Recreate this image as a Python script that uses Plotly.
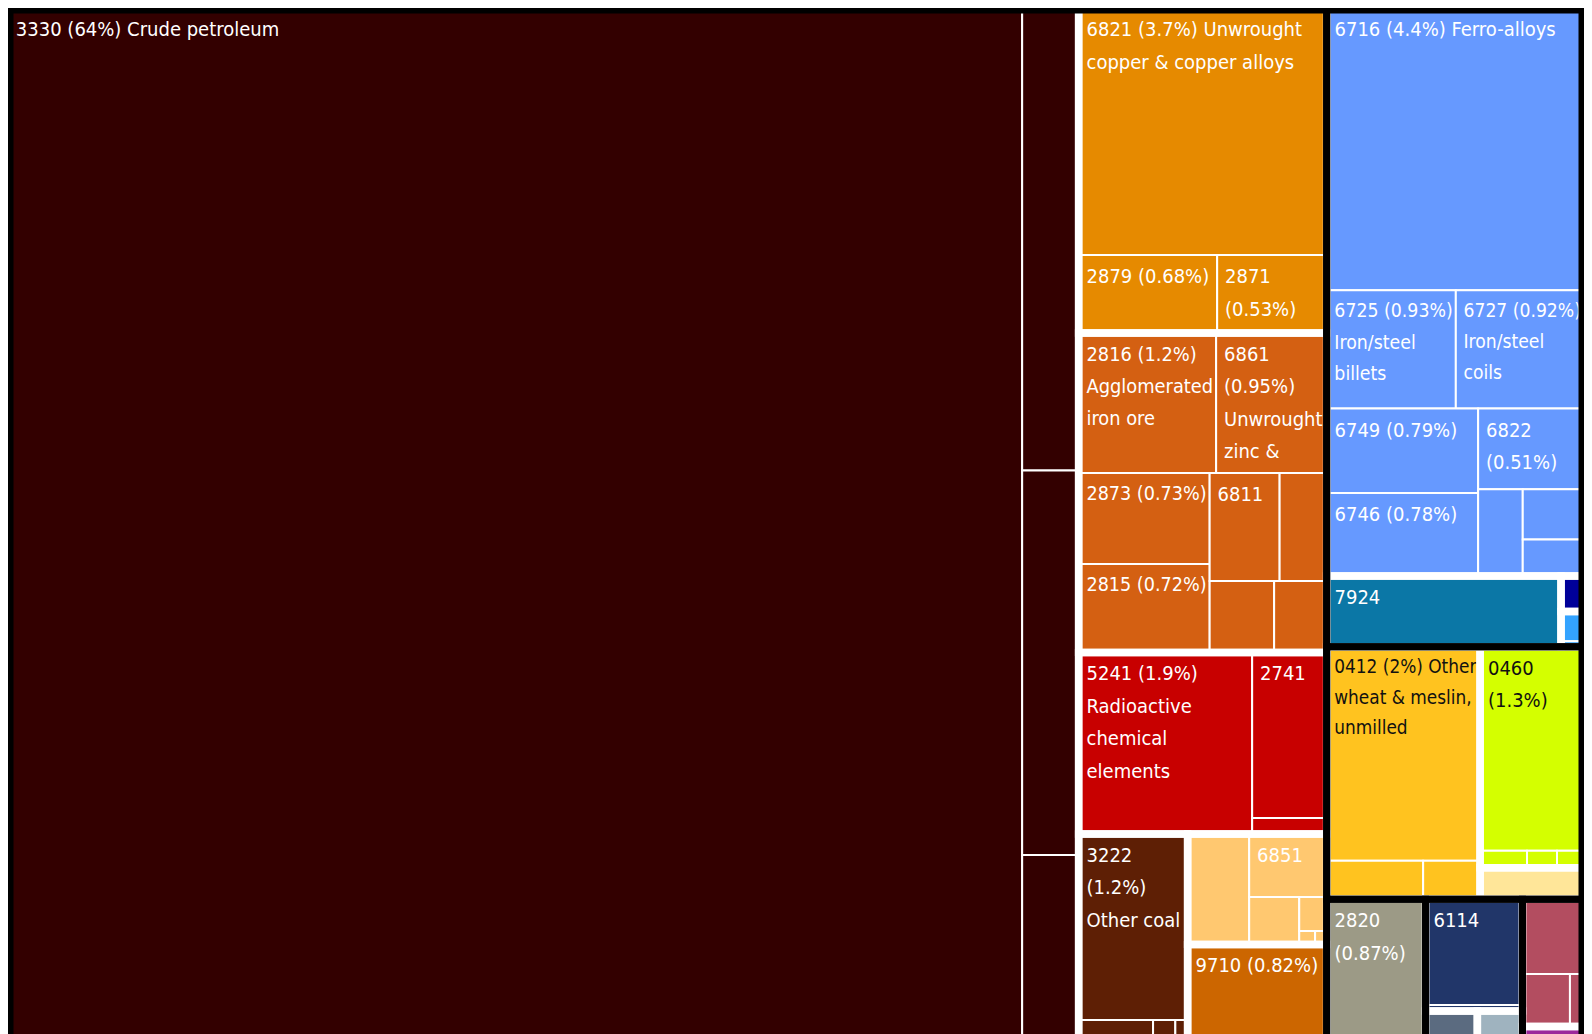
import plotly.graph_objects as go

# ---------------- data (share of exports, %) ----------------
top_ids = ["A", "B", "C", "D1", "D2", "D3"]

group_ids = ["M", "Cu", "Fe", "R", "Br", "LO", "G",
             "Bl", "T", "DB", "LB",
             "Y", "L", "P",
             "GR", "NV", "GB", "LG", "PK", "PU"]
group_parents = ["A"] * 7 + ["B"] * 4 + ["C"] * 3 + ["D1", "D2", "D2", "D2", "D3", "D3"]
group_colors = ["#330000", "#E68A00", "#D46012", "#C80000", "#5E1F05", "#FFC870", "#CC6600",
                "#6699FF", "#0B77A6", "#000099", "#33A3FF",
                "#FFC31F", "#D4FF00", "#FFE699",
                "#9C9A86", "#213669", "#5B6B80", "#9FB3BF", "#B34D60", "#9B279B"]

leaf_ids = ["3330", "m1", "m2", "m3",
            "6821", "2879", "2871",
            "2816", "6861", "2873", "2815", "6811", "f6", "f7", "f8",
            "5241", "2741", "r3",
            "3222", "b2", "b3", "b4",
            "lo1", "6851", "lo3", "lo4", "lo5", "lo6",
            "9710",
            "6716", "6725", "6727", "6749", "6746", "6822", "s1", "s2", "s3",
            "7924", "db1", "lb1", "lb2",
            "0412", "y2", "y3", "0460", "l2", "l3", "l4", "p1",
            "2820", "6114", "n2", "gb1", "lg1", "pk1", "pk2", "pk3", "pu1"]
leaf_groups = ["M"] * 4 + ["Cu"] * 3 + ["Fe"] * 8 + ["R"] * 3 + ["Br"] * 4 + ["LO"] * 6 + ["G"] + \
              ["Bl"] * 9 + ["T", "DB", "LB", "LB"] + ["Y"] * 3 + ["L"] * 4 + ["P"] + \
              ["GR", "NV", "NV", "GB", "LG", "PK", "PK", "PK", "PU"]
leaf_values = [64.34, 1.594, 1.325, 0.665,
               3.737, 0.659, 0.521,
               1.174, 0.944, 0.727, 0.707, 0.461, 0.310, 0.281, 0.229,
               1.921, 0.752, 0.073,
               1.237, 0.127, 0.038, 0.021,
               0.415, 0.298, 0.145, 0.057, 0.013, 0.0095,
               0.878,
               4.430, 0.932, 0.925, 0.781, 0.767, 0.522, 0.236, 0.187, 0.137,
               1.009, 0.0498, 0.0414, 0.0077,
               2.004, 0.227, 0.134, 1.294, 0.0487, 0.0311, 0.028, 0.200,
               0.897, 0.624, 0.0355, 0.117, 0.102, 0.280, 0.152, 0.045, 0.081]
leaf_labels = ["3330 (64%) Crude petroleum", "", "", "",
               "6821 (3.7%) Unwrought<br>copper & copper alloys", "2879 (0.68%)", "2871<br>(0.53%)",
               "2816 (1.2%)<br>Agglomerated<br>iron ore", "6861<br>(0.95%)<br>Unwrought<br>zinc &",
               "2873 (0.73%)", "2815 (0.72%)", "6811", "", "", "",
               "5241 (1.9%)<br>Radioactive<br>chemical<br>elements", "2741", "",
               "3222<br>(1.2%)<br>Other coal", "", "", "",
               "", "6851", "", "", "", "",
               "9710 (0.82%)",
               "6716 (4.4%) Ferro-alloys", "6725 (0.93%)<br>Iron/steel<br>billets",
               "6727 (0.92%)<br>Iron/steel<br>coils", "6749 (0.79%)", "6746 (0.78%)", "6822<br>(0.51%)",
               "", "", "",
               "7924", "", "", "",
               "0412 (2%) Other<br>wheat & meslin,<br>unmilled", "", "", "0460<br>(1.3%)", "", "", "", "",
               "2820<br>(0.87%)", "6114", "", "", "", "", "", "", ""]
dark_text_ids = ["0412", "0460"]

# ---------------- figure ----------------
FONT = "DejaVu Sans Condensed, Liberation Sans, sans-serif"
CLEAR = "rgba(0,0,0,0)"
group_color = dict(zip(group_ids, group_colors))
n_head = 1 + len(top_ids) + len(group_ids)


def styled(label):
    """Inset each line a little (thin space) and set the glyph size."""
    if not label:
        return ""
    lines = label.split("<br>")
    return "<br>".join(
        "<span style='font-size:27px'>\u2009</span><span style='font-size:20px'>%s</span>" % ln
        for ln in lines)


common = dict(
    branchvalues="remainder",
    sort=True,
    tiling=dict(packing="binary", pad=0),
    pathbar=dict(visible=False),
    domain=dict(x=[0, 1], y=[0, 1]),
    hoverinfo="none",
)

# main trace: all tiles
ids_main = ["root"] + top_ids + group_ids + leaf_ids
main = go.Treemap(
    ids=ids_main,
    labels=ids_main,
    parents=[""] + ["root"] * len(top_ids) + group_parents + leaf_groups,
    values=[0] * n_head + leaf_values,
    text=[""] * n_head + [styled(t) for t in leaf_labels],
    textinfo="text",
    textposition="top left",
    textfont=dict(family=FONT, size=25,
                  color=["white"] * n_head +
                  ["#111111" if i in dark_text_ids else "white" for i in leaf_ids]),
    marker=dict(
        colors=["#000000"] * (1 + len(top_ids)) + group_colors + [group_color[g] for g in leaf_groups],
        line=dict(color="white", width=[0] * n_head + [2] * len(leaf_ids)),
        pad=dict(t=0, l=0, r=0, b=0),
    ),
    **common,
)

# overlay: white gaps between colour groups
group_value = {g: 0.0 for g in group_ids}
for g, v in zip(leaf_groups, leaf_values):
    group_value[g] += v
ids_gaps = ["root"] + top_ids + group_ids
gaps = go.Treemap(
    ids=ids_gaps,
    labels=ids_gaps,
    parents=[""] + ["root"] * len(top_ids) + group_parents,
    values=[0] * (1 + len(top_ids)) + [group_value[g] for g in group_ids],
    textinfo="none",
    marker=dict(
        colors=[CLEAR] * len(ids_gaps),
        line=dict(color="white", width=[0] * (1 + len(top_ids)) + [7.5] * len(group_ids)),
        pad=dict(t=0, l=0, r=0, b=0),
    ),
    **common,
)

# overlay: black frames of top-level blocks
top_value = {t: 0.0 for t in top_ids}
for g, p in zip(group_ids, group_parents):
    top_value[p] += group_value[g]
ids_frames = ["root"] + top_ids
frames = go.Treemap(
    ids=ids_frames,
    labels=ids_frames,
    parents=[""] + ["root"] * len(top_ids),
    values=[0] + [top_value[t] for t in top_ids],
    textinfo="none",
    marker=dict(
        colors=[CLEAR] * len(ids_frames),
        line=dict(color="black", width=[11] + [7] * len(top_ids)),
        pad=dict(t=0, l=0, r=0, b=0),
    ),
    **common,
)

fig = go.Figure([main, gaps, frames])
fig.update_layout(
    width=1576, height=1040,
    margin=dict(l=0, r=0, t=0, b=0),
    paper_bgcolor="white",
    showlegend=False,
)
fig.write_html("out.html", post_script="document.body.style.overflow='hidden';")
